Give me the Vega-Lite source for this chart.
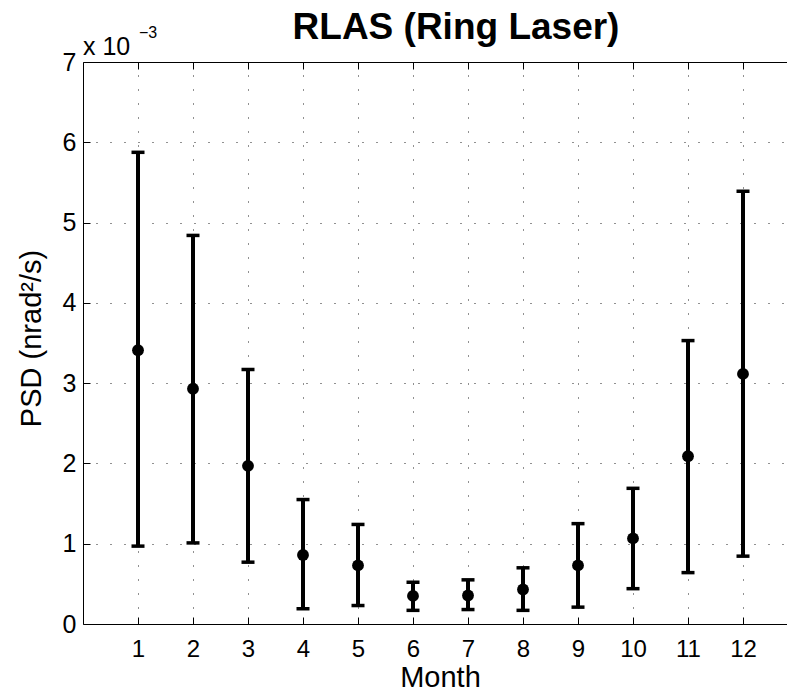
{
  "$schema": "https://vega.github.io/schema/vega-lite/v6.json",
  "autosize": "none",
  "width": 704,
  "height": 562,
  "padding": {"left": 83, "top": 62, "right": 0, "bottom": 67},
  "background": "white",
  "config": {
    "view": {"stroke": null},
    "font": "Liberation Sans",
    "axis": {
      "domainColor": "black", "domainWidth": 1,
      "tickColor": "black", "tickWidth": 1, "tickSize": -7,
      "labelColor": "black", "labelFont": "Liberation Sans", "labelFontSize": 24,
      "titleColor": "black", "titleFont": "Liberation Sans", "titleFontWeight": "normal",
      "gridColor": "#222", "gridWidth": 1, "gridDash": [1, 13], "gridDashOffset": 1, "gridOpacity": 1
    }
  },
  "title": {
    "text": "RLAS (Ring Laser)",
    "fontSize": 37, "fontWeight": "bold", "font": "Liberation Sans", "color": "black",
    "anchor": "middle", "baseline": "alphabetic", "offset": -51, "dx": 21
  },
  "data": {"values": [
    {"month": 1, "psd": 3.41, "lo": 0.97, "hi": 5.875},
    {"month": 2, "psd": 2.93, "lo": 1.01, "hi": 4.84},
    {"month": 3, "psd": 1.97, "lo": 0.77, "hi": 3.17},
    {"month": 4, "psd": 0.86, "lo": 0.19, "hi": 1.55},
    {"month": 5, "psd": 0.73, "lo": 0.23, "hi": 1.24},
    {"month": 6, "psd": 0.35, "lo": 0.17, "hi": 0.52},
    {"month": 7, "psd": 0.355, "lo": 0.18, "hi": 0.55},
    {"month": 8, "psd": 0.43, "lo": 0.17, "hi": 0.70},
    {"month": 9, "psd": 0.73, "lo": 0.21, "hi": 1.25},
    {"month": 10, "psd": 1.066, "lo": 0.44, "hi": 1.69},
    {"month": 11, "psd": 2.09, "lo": 0.64, "hi": 3.53},
    {"month": 12, "psd": 3.115, "lo": 0.845, "hi": 5.39}
  ]},
  "resolve": {"axis": {"x": "independent"}},
  "layer": [
    {
      "mark": {"type": "rule", "color": "black", "strokeWidth": 4},
      "encoding": {
        "x": {"field": "month", "type": "quantitative",
              "scale": {"domain": [0, 12.8], "nice": false, "zero": false},
              "axis": {"orient": "bottom", "values": [1,2,3,4,5,6,7,8,9,10,11,12], "grid": true,
                       "labelPadding": 39, "labelBaseline": "alphabetic", "labelFlush": false,
                       "title": "Month", "titleFontSize": 29, "titleX": 357, "titleY": 62,
                       "titleBaseline": "alphabetic", "titleAlign": "center"}},
        "y": {"field": "lo", "type": "quantitative",
              "scale": {"domain": [0, 7], "nice": false, "zero": false},
              "axis": {"values": [0,1,2,3,4,5,6,7], "format": "d", "grid": true, "labelPadding": 14,
                       "labelBaseline": "middle", "labelFlush": false, "labelFontSize": 25,
                       "title": "PSD (nrad²/s)", "titleFontSize": 29, "titleX": -43, "titleY": 276,
                       "titleBaseline": "alphabetic", "titleAlign": "center", "titleAngle": -90}},
        "y2": {"field": "hi"}
      }
    },
    {
      "mark": {"type": "tick", "orient": "horizontal", "color": "black", "size": 13, "thickness": 3.5, "opacity": 1},
      "encoding": {
        "x": {"field": "month", "type": "quantitative",
              "axis": {"orient": "top", "values": [1,2,3,4,5,6,7,8,9,10,11,12], "labels": false,
                       "offset": 0, "position": 0,
                       "domain": true, "ticks": true, "grid": false, "title": null}},
        "y": {"field": "lo", "type": "quantitative"}
      }
    },
    {
      "mark": {"type": "tick", "orient": "horizontal", "color": "black", "size": 13, "thickness": 3.5, "opacity": 1},
      "encoding": {
        "x": {"field": "month", "type": "quantitative", "axis": null},
        "y": {"field": "hi", "type": "quantitative"}
      }
    },
    {
      "mark": {"type": "circle", "color": "black", "size": 140, "opacity": 1},
      "encoding": {
        "x": {"field": "month", "type": "quantitative", "axis": null},
        "y": {"field": "psd", "type": "quantitative"}
      }
    },
    {
      "data": {"values": [{"t": "x 10"}]},
      "mark": {"type": "text", "align": "left", "baseline": "alphabetic", "fontSize": 25, "color": "black", "dx": 0, "dy": -7},
      "encoding": {
        "x": {"datum": 0, "type": "quantitative", "axis": null},
        "y": {"datum": 7, "type": "quantitative"},
        "text": {"field": "t"}
      }
    },
    {
      "data": {"values": [{"t": "−3"}]},
      "mark": {"type": "text", "align": "left", "baseline": "alphabetic", "fontSize": 16, "color": "black", "dx": 56, "dy": -24},
      "encoding": {
        "x": {"datum": 0, "type": "quantitative", "axis": null},
        "y": {"datum": 7, "type": "quantitative"},
        "text": {"field": "t"}
      }
    }
  ]
}
